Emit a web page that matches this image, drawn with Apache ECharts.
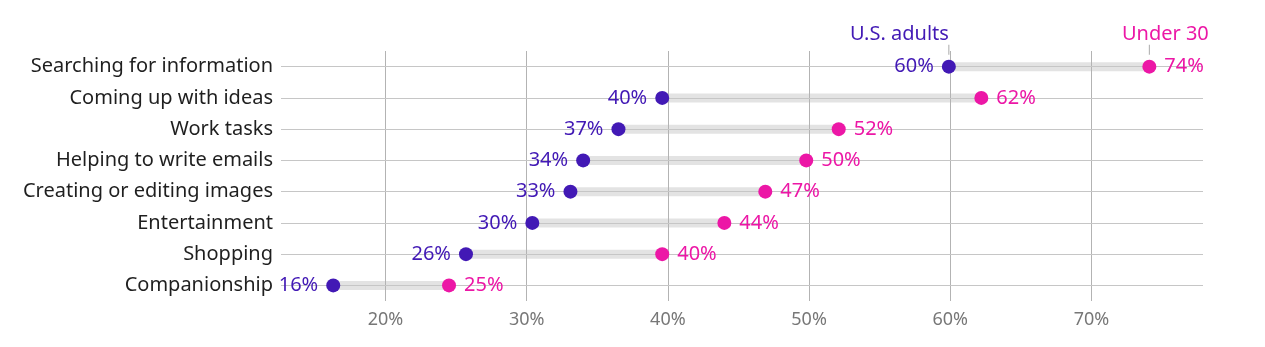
<!DOCTYPE html>
<html>
<head>
<meta charset="utf-8">
<script src="https://cdn.jsdelivr.net/npm/echarts@6/dist/echarts.min.js"></script>
<style>
  html, body { margin: 0; padding: 0; background: #fff; }
  #chart { width: 1265px; height: 347px; }
</style>
</head>
<body>
<div id="chart"></div>
<script>
const categories = ['Searching for information', 'Coming up with ideas', 'Work tasks', 'Helping to write emails', 'Creating or editing images', 'Entertainment', 'Shopping', 'Companionship'];
const usAdults = [59.9, 39.6, 36.5, 34.0, 33.1, 30.4, 25.7, 16.3];
const under30 = [74.1, 62.2, 52.1, 49.8, 46.9, 44.0, 39.6, 24.5];
const usLabels = ['60%', '40%', '37%', '34%', '33%', '30%', '26%', '16%'];
const u30Labels = ['74%', '62%', '52%', '50%', '47%', '44%', '40%', '25%'];
const seriesNames = ['U.S. adults', 'Under 30'];

const PURPLE = '#4219B5';
const PINK = '#EC17A6';
const FONT = 'Noto Sans';

const chart = echarts.init(document.getElementById('chart'), null, { renderer: 'canvas' });

const option = {
  animation: false,
  backgroundColor: '#ffffff',
  textStyle: { fontFamily: FONT },
  grid: { left: 281, right: 62, top: 51, height: 250, containLabel: false },
  xAxis: {
    type: 'value',
    min: 12.6,
    max: 77.9,
    splitNumber: 6,
    axisLine: { show: false },
    axisTick: { show: false },
    axisLabel: {
      color: '#777777', fontSize: 18, fontFamily: FONT, margin: 10,
      showMinLabel: false, showMaxLabel: false,
      formatter: v => v + '%'
    },
    splitLine: { show: true, showMinLine: false, showMaxLine: false, lineStyle: { color: '#b3b3b3', width: 1 } }
  },
  yAxis: {
    type: 'category',
    data: categories,
    inverse: true,
    axisLine: { show: false },
    axisTick: { show: false },
    splitLine: { show: false },
    axisLabel: { color: '#1f1f1f', fontSize: 20, fontFamily: FONT, margin: 8 }
  },
  series: [
    {
      name: 'base', type: 'bar', stack: 'band', barWidth: 9, z: -1, silent: true,
      itemStyle: { color: 'rgba(0,0,0,0)' },
      data: usAdults,
      markLine: {
        silent: true, symbol: ['none', 'none'], z: 1,
        label: { show: false },
        lineStyle: { color: '#c6c6c6', width: 1, type: 'solid' },
        emphasis: { disabled: true },
        data: categories.map(c => ({ yAxis: c }))
      }
    },
    {
      name: 'gap', type: 'bar', stack: 'band', barWidth: 9, z: -1, silent: true,
      itemStyle: { color: '#e3e3e3' },
      data: under30.map((v, i) => +(v - usAdults[i]).toFixed(2))
    },
    {
      name: seriesNames[0], type: 'scatter', symbolSize: 14, z: 5,
      itemStyle: { color: PURPLE, opacity: 1 },
      data: usAdults.map((v, i) => [v, i]),
      label: {
        show: true, position: 'left', distance: 8, color: PURPLE, fontSize: 20, fontFamily: FONT,
        formatter: p => usLabels[p.dataIndex]
      }
    },
    {
      name: seriesNames[1], type: 'scatter', symbolSize: 14, z: 5,
      itemStyle: { color: PINK, opacity: 1 },
      data: under30.map((v, i) => [v, i]),
      label: {
        show: true, position: 'right', distance: 8, color: PINK, fontSize: 20, fontFamily: FONT,
        formatter: p => u30Labels[p.dataIndex]
      }
    },
    {
      name: 'annotUS', type: 'scatter', symbol: 'rect', symbolSize: [1, 10], symbolOffset: [0, -17], z: 4, silent: true,
      itemStyle: { color: '#aaaaaa', opacity: 1 },
      data: [[usAdults[0], 0]],
      label: {
        show: true, position: 'top', distance: 0, align: 'right', color: PURPLE, fontSize: 20, fontFamily: FONT,
        formatter: () => seriesNames[0]
      }
    },
    {
      name: 'annotU30', type: 'scatter', symbol: 'rect', symbolSize: [1, 10], symbolOffset: [0, -17], z: 4, silent: true,
      itemStyle: { color: '#aaaaaa', opacity: 1 },
      data: [[under30[0], 0]],
      label: {
        show: true, position: 'top', distance: 0, align: 'center', offset: [16, 0], color: PINK, fontSize: 20, fontFamily: FONT,
        formatter: () => seriesNames[1]
      }
    }
  ]
};
chart.setOption(option);
</script>
</body>
</html>
